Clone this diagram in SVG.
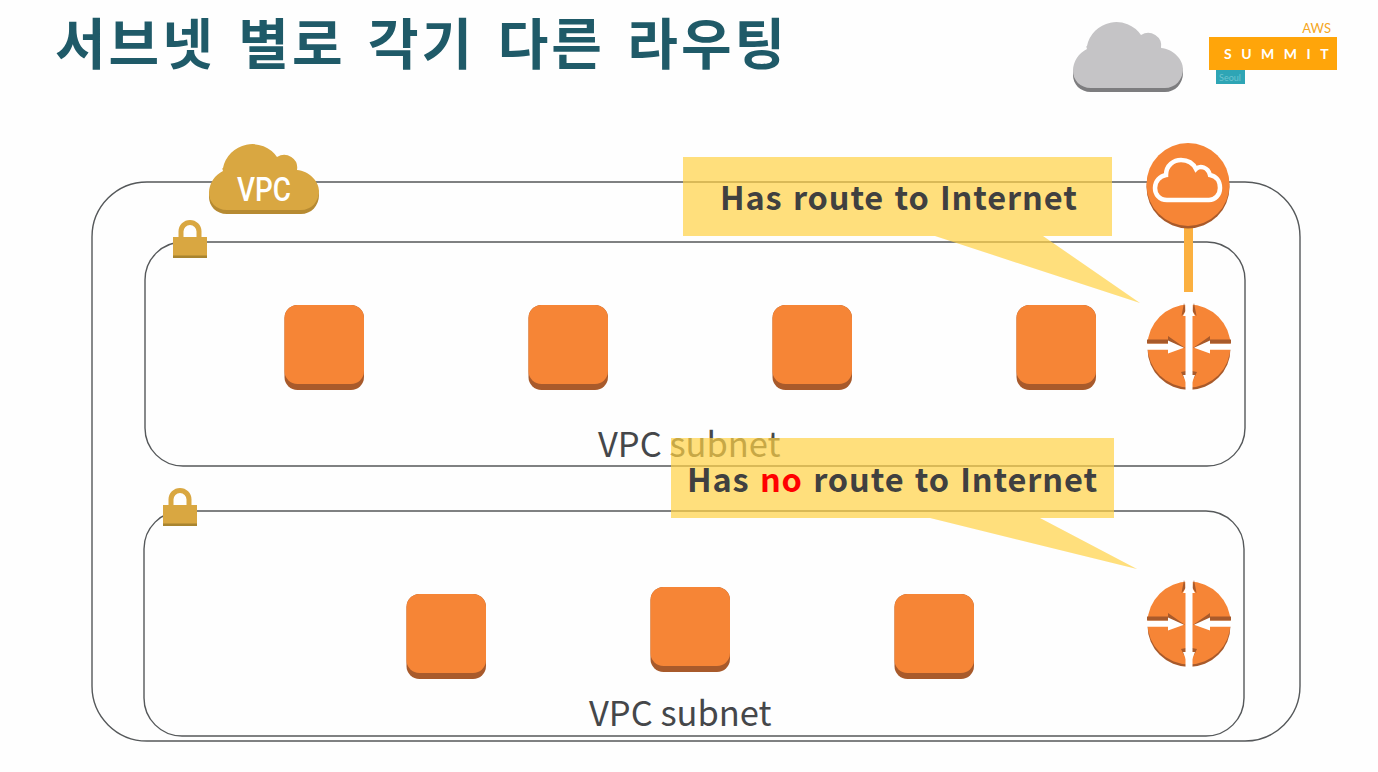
<svg xmlns="http://www.w3.org/2000/svg" xmlns:xlink="http://www.w3.org/1999/xlink" width="1378" height="772" viewBox="0 0 1378 772">
<style>
.frame{fill:#fefefe;stroke:#55585a;stroke-width:1.4}
.call{fill:#FFD145;fill-opacity:.7}
.sub{font-family:"Noto Sans CJK KR","Noto Sans",sans-serif;font-size:34.5px;fill:#45474a}
.msg{font-family:"Noto Sans CJK KR","Noto Sans",sans-serif;font-size:32.500px;font-weight:700;fill:#404040;letter-spacing:.9px;word-spacing:2px}
.w{fill:#fff}
.dk{fill:#A85A2B}
</style>
<defs>
<path id="cloud" d="M18 66C7 66 0 58 0 49C0 39 6 31 14 27C13 24 13.500 24 14 24A30 30 0 0 1 68 13A13 13 0 0 1 88 26C100 27 110 37 110 47C110 58 102 66 92 66Z"/>
<g id="inst">
<rect width="79.500" height="85" rx="13" fill="#A85A2B"/>
<rect width="79.500" height="79" rx="13" fill="#F68536"/>
</g>
<g id="lock">
<path d="M8 20V11.500A9 9 0 0 1 26 11.500V20" fill="none" stroke="#D9A741" stroke-width="5"/>
<rect y="17" width="34" height="21" fill="#D9A741"/>
<rect y="35.500" width="34" height="2.500" fill="#A8842F"/>
</g>
<g id="router">
<circle r="41.500" cy="1.500" class="dk"/>
<circle r="41.500" cy="-1" fill="#F68536"/>
<path d="M-42-7.500H-21V-11L-4 1H-21V-3.300H-42ZM42-7.500H21V-11L4 1H21V-3.300H42Z" class="dk"/>
<path d="M-42-3.300H-21V-6.500L-5 .7L-21 6.500V2.800H-42ZM42-3.300H21V-6.500L5 .7L21 6.500V2.800H42Z" class="w"/>
<path d="M-8 25L-3 24V31H-5ZM8 25L3 24V31H5Z" class="dk"/>
<path d="M-5-44L-7.500-31L-3-36ZM5-44L7.500-31L3-36Z" class="dk"/>
<path d="M-3.500-44H3.500V-36L6-31L3-31V28H6L0 43H0L-6 28H-3V-31L-6-31L-3.500-36Z" class="w"/>
<rect x="-3.500" y="-44" width="7" height="88" class="w"/>
</g>
</defs>
<rect width="1378" height="772" fill="#fefefe"/>
<g id="title"><text x="55" y="64" font-family="'Noto Sans CJK KR','Noto Sans',sans-serif" font-size="55" font-weight="700" fill="#1F5A68" letter-spacing="3" word-spacing="7">서브넷 별로 각기 다른 라우팅</text></g>
<g id="logo-cloud"><use href="#cloud" x="1073" y="26" fill="#7d7d7f"/><use href="#cloud" x="1073" y="22" fill="#c5c4c6"/></g>
<g id="summit">
<text x="1331" y="33" text-anchor="end" font-family="Lato,sans-serif" font-size="13" fill="#F5A623">AWS</text>
<rect x="1209" y="37" width="128" height="33" fill="#FFA50A"/>
<text x="1224" y="59" font-family="Lato,sans-serif" font-size="14" font-weight="700" fill="#fff" letter-spacing="9.500">SUMMIT</text>
<rect x="1216" y="70" width="29" height="14" fill="#2EA5B5"/>
<text x="1230" y="81" text-anchor="middle" font-family="Lato,sans-serif" font-size="9" fill="#6cc4d0">Seoul</text>
</g>
<g id="vpc-frame"><rect class="frame" x="92" y="182" width="1208" height="559" rx="55"/></g>
<g id="subnet-1">
<rect class="frame" x="145" y="242" width="1100" height="224" rx="38"/>
<text class="sub" x="598" y="457">VPC subnet</text>
</g>
<g id="subnet-2">
<rect class="frame" x="144" y="511" width="1100" height="225" rx="38"/>
<text class="sub" x="589" y="726">VPC subnet</text>
</g>
<g id="vpc-badge">
<use href="#cloud" x="209" y="148" fill="#B68A32"/>
<use href="#cloud" x="209" y="144" fill="#D9A741"/>
<text x="264" y="201" text-anchor="middle" font-family="Roboto,sans-serif" font-size="33" font-weight="500" fill="#fff" textLength="54" lengthAdjust="spacingAndGlyphs">VPC</text>
</g>
<g id="lock-1"><use href="#lock" x="173" y="220"/></g>
<g id="lock-2"><use href="#lock" x="163" y="488"/></g>
<g id="instance-1"><use href="#inst" x="284.500" y="305"/></g>
<g id="instance-2"><use href="#inst" x="528.500" y="305"/></g>
<g id="instance-3"><use href="#inst" x="772.500" y="305"/></g>
<g id="instance-4"><use href="#inst" x="1016.500" y="305"/></g>
<g id="instance-5"><use href="#inst" x="406.500" y="594"/></g>
<g id="instance-6"><use href="#inst" x="650.500" y="587"/></g>
<g id="instance-7"><use href="#inst" x="894.500" y="594"/></g>
<g id="connectors"><rect x="1184" y="224" width="9" height="68" fill="#FBB040"/></g>
<g id="gateway">
<circle cx="1188" cy="187" r="41.500" fill="#A85A2B"/>
<circle cx="1188" cy="184.500" r="41.500" fill="#F68536"/>
<path d="M1167 200C1159 200 1155 194 1155 188C1155 181 1160 176 1166 175C1166 165 1174 160 1181 160C1188 160 1193 163 1196 169C1200 165 1208 167 1210 175C1216 176 1220 181 1220 188C1220 195 1215 200 1209 200Z" fill="none" stroke="#fff" stroke-width="4.500"/>
</g>
<g id="router-1"><use href="#router" x="1189" y="347"/></g>
<g id="router-2"><use href="#router" x="1189" y="624"/></g>
<g id="callout-1">
<path class="call" d="M683 157H1112V236H1043L1140 303L935 236H683Z"/>
<text class="msg" x="720" y="210">Has route to Internet</text>
</g>
<g id="callout-2">
<path class="call" d="M671 438H1114V518H1040L1137 569L930 518H671Z"/>
<text class="msg" x="687" y="492">Has <tspan fill="#FF0000">no</tspan> route to Internet</text>
</g>
</svg>
